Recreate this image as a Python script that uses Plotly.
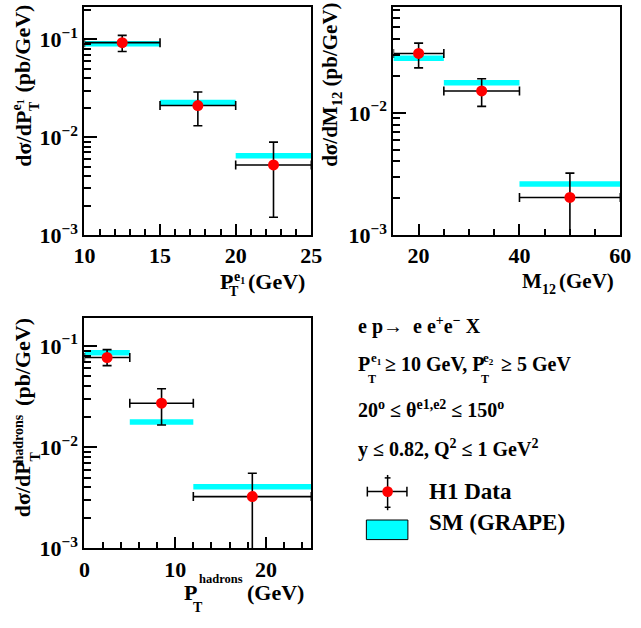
import plotly.graph_objects as go

W, H = 641, 628
FONT = "Liberation Serif, 'Times New Roman', Times, serif"

# ---------------- data ----------------
# Panel 1: dsigma/dPT(e1)
pt1_edges = [10, 15, 20, 25]
pt1_data = [0.0927, 0.0211, 0.00521]
pt1_hi = [0.110, 0.0290, 0.00891]
pt1_lo = [0.0753, 0.0131, 0.00152]
pt1_sm = [0.0905, 0.0227, 0.00646]

# Panel 2: dsigma/dM12
m12_edges = [15, 25, 40, 60]
m12_data = [0.0306, 0.0151, 0.00203]
m12_hi = [0.0372, 0.0190, 0.00321]
m12_lo = [0.0233, 0.0113, 0.0002]
m12_sm = [0.0279, 0.0176, 0.00262]

# Panel 3: dsigma/dPT(hadrons)
pth_edges = [0, 5, 12, 25]
pth_data = [0.0770, 0.0272, 0.00325]
pth_hi = [0.092, 0.0378, 0.00552]
pth_lo = [0.064, 0.0166, 0.0002]
pth_sm = [0.0856, 0.0177, 0.00407]

y_tickvals = [0.001, 0.01, 0.1]
y_ticktext = ["10<sup>\u22123</sup>", "10<sup>\u22122</sup>", "10<sup>\u22121</sup>"]


def px(x):
    return x / W


def py(y):
    return 1 - y / H


fig = go.Figure()


def add_panel(idx, edges, data, hi, lo, sm):
    xa = "x" if idx == 1 else f"x{idx}"
    ya = "y" if idx == 1 else f"y{idx}"
    bx, by = [], []
    for i in range(len(sm)):
        bx += [edges[i], edges[i + 1], None]
        by += [sm[i], sm[i], None]
    fig.add_trace(go.Scatter(x=bx, y=by, mode="lines", xaxis=xa, yaxis=ya,
                             line=dict(color="#00ffff", width=5.5),
                             showlegend=False, hoverinfo="skip"))
    centers = [(edges[i] + edges[i + 1]) / 2 for i in range(len(data))]
    ex = [(edges[i + 1] - edges[i]) / 2 for i in range(len(data))]
    eu = [hi[i] - data[i] for i in range(len(data))]
    ed = [data[i] - lo[i] for i in range(len(data))]
    fig.add_trace(go.Scatter(
        x=centers, y=data, mode="markers", xaxis=xa, yaxis=ya,
        marker=dict(color="#ff0000", size=11, line=dict(width=0)),
        error_x=dict(type="data", array=ex, arrayminus=ex, color="black",
                     thickness=1.6, width=4.5),
        error_y=dict(type="data", array=eu, arrayminus=ed, color="black",
                     thickness=1.6, width=4.5),
        showlegend=False, hoverinfo="skip"))


add_panel(1, pt1_edges, pt1_data, pt1_hi, pt1_lo, pt1_sm)
add_panel(2, m12_edges, m12_data, m12_hi, m12_lo, m12_sm)
add_panel(3, pth_edges, pth_data, pth_hi, pth_lo, pth_sm)

tickfont = dict(family=FONT, size=22, color="black", weight="bold")
minor_y = [m * 10 ** e for e in (-3, -2, -1) for m in range(2, 10)]


def xaxis(domain, rng, major, minor, anchor):
    return dict(domain=domain, range=rng, anchor=anchor, showline=True,
                linecolor="black", linewidth=2, mirror=True, showgrid=False,
                zeroline=False, ticks="inside", ticklen=11, tickwidth=1.5,
                tickcolor="black", tickvals=major, ticktext=[str(v) for v in major],
                tickfont=tickfont,
                minor=dict(tickvals=minor, ticks="inside", ticklen=6,
                           tickwidth=1.5, tickcolor="black", showgrid=False))


def yaxis(domain, rng, anchor):
    return dict(domain=domain, range=rng, type="log", anchor=anchor,
                showline=True, linecolor="black", linewidth=2, mirror=True,
                showgrid=False, zeroline=False, ticks="inside", ticklen=13,
                tickwidth=1.5, tickcolor="black", tickvals=y_tickvals,
                ticktext=y_ticktext, tickfont=tickfont,
                minor=dict(tickvals=minor_y, ticks="inside", ticklen=7,
                           tickwidth=1.5, tickcolor="black", showgrid=False))


x1d = [px(76), px(311)]
x2d = [px(396), px(631)]
y1d = [py(240), py(7)]
y3d = [py(560), py(325)]

fig.update_layout(
    width=W, height=H, margin=dict(l=0, r=0, t=0, b=0),
    paper_bgcolor="white", plot_bgcolor="white", showlegend=False,
    font=dict(family=FONT),
    xaxis=xaxis(x1d, [10, 25], [10, 15, 20, 25], list(range(11, 25)), "y"),
    yaxis=yaxis(y1d, [-3, -0.667], "x"),
    xaxis2=xaxis(x2d, [15, 60], [20, 40, 60], list(range(15, 60, 5)), "y2"),
    yaxis2=yaxis(y1d, [-3, -1.133], "x2"),
    xaxis3=xaxis(x1d, [0, 25], [0, 10, 20], list(range(2, 25, 2)), "y3"),
    yaxis3=yaxis(y3d, [-3, -0.726], "x3"),
)

ann = []


def txt(x, y, text, size, xanchor="center", yanchor="middle", angle=0):
    ann.append(dict(x=px(x), y=py(y), xref="paper", yref="paper", text=text,
                    showarrow=False, xanchor=xanchor, yanchor=yanchor,
                    textangle=angle,
                    font=dict(family=FONT, size=size, color="black",
                              weight="bold")))


TS = 22
SS = 14
# ---- y titles (rotated) ----
txt(12, 142, "d\u03c3/dP", TS, angle=-90)
txt(7, 107, "e<sub>1</sub>", SS, angle=-90)
txt(25, 108, "T", SS, angle=-90)
txt(12, 50, "(pb/GeV)", TS, angle=-90)

txt(332, 87, "d\u03c3/dM<sub>12</sub> (pb/GeV)", 21, angle=-90)

txt(12, 500, "d\u03c3/dP", TS, angle=-90)
txt(8, 448, "hadrons", SS, angle=-90)
txt(25, 466, "T", SS, angle=-90)
txt(12, 370, "(pb/GeV)", TS, angle=-90)

# ---- x titles ----
txt(214, 287, "P", TS, xanchor="left")
txt(229, 283, "e<sub>1</sub>", SS, xanchor="left")
txt(231, 298, "T", SS, xanchor="center")
txt(307, 287, "(GeV)", TS, xanchor="right")

txt(527, 287, "M", 21, xanchor="left")
txt(548, 296, "12", SS, xanchor="left")
txt(626, 287, "(GeV)", 21, xanchor="right")

txt(177, 605, "P", TS, xanchor="left")
txt(193, 591, "hadrons", 12.5, xanchor="left")
txt(194, 620, "T", SS, xanchor="center")
txt(306, 605, "(GeV)", TS, xanchor="right")

# ---- text block ----
BS = 20
txt(357, 332, "e p\u2192  e e<sup>+</sup>e<sup>\u2212</sup> X", BS, xanchor="left")
txt(357, 372, "P", BS, xanchor="left")
txt(371, 366, "e<sub>1</sub>", 13, xanchor="left")
txt(374, 387, "T", 12, xanchor="center")
txt(385, 372, "\u2265 10 GeV, P", BS, xanchor="left")
txt(487, 366, "e<sub>2</sub>", 13, xanchor="left")
txt(491, 387, "T", 12, xanchor="center")
txt(505, 372, "\u2265 5 GeV", BS, xanchor="left")
txt(357, 418, "20<sup>o</sup> \u2264 \u03b8<sup>e1,e2</sup> \u2264 150<sup>o</sup>", BS, xanchor="left")
txt(357, 458, "y \u2264 0.82, Q<sup>2</sup> \u2264 1 GeV<sup>2</sup>", BS, xanchor="left")

# ---- legend ----
LS = 23
txt(431, 502, "H1 Data", LS, xanchor="left")
txt(431, 534, "SM (GRAPE)", LS, xanchor="left")

shapes = []
lc = dict(color="black", width=1.5)
shapes.append(dict(type="rect", xref="paper", yref="paper", x0=px(368), x1=px(411),
                   y0=py(551), y1=py(531), fillcolor="#00ffff",
                   line=dict(color="black", width=1)))
shapes.append(dict(type="line", xref="paper", yref="paper", x0=px(369), x1=px(410),
                   y0=py(502), y1=py(502), line=lc))
shapes.append(dict(type="line", xref="paper", yref="paper", x0=px(369), x1=px(369),
                   y0=py(497), y1=py(507), line=lc))
shapes.append(dict(type="line", xref="paper", yref="paper", x0=px(410), x1=px(410),
                   y0=py(497), y1=py(507), line=lc))
shapes.append(dict(type="line", xref="paper", yref="paper", x0=px(390), x1=px(390),
                   y0=py(485), y1=py(521), line=lc))
shapes.append(dict(type="line", xref="paper", yref="paper", x0=px(387), x1=px(393),
                   y0=py(488), y1=py(488), line=lc))
shapes.append(dict(type="line", xref="paper", yref="paper", x0=px(387), x1=px(393),
                   y0=py(518), y1=py(518), line=lc))
shapes.append(dict(type="circle", xref="paper", yref="paper", x0=px(384.5), x1=px(395.5),
                   y0=py(507.5), y1=py(496.5), fillcolor="#ff0000",
                   line=dict(color="#ff0000", width=0)))

fig.update_layout(annotations=ann, shapes=shapes)
fig.write_html("out.html")
